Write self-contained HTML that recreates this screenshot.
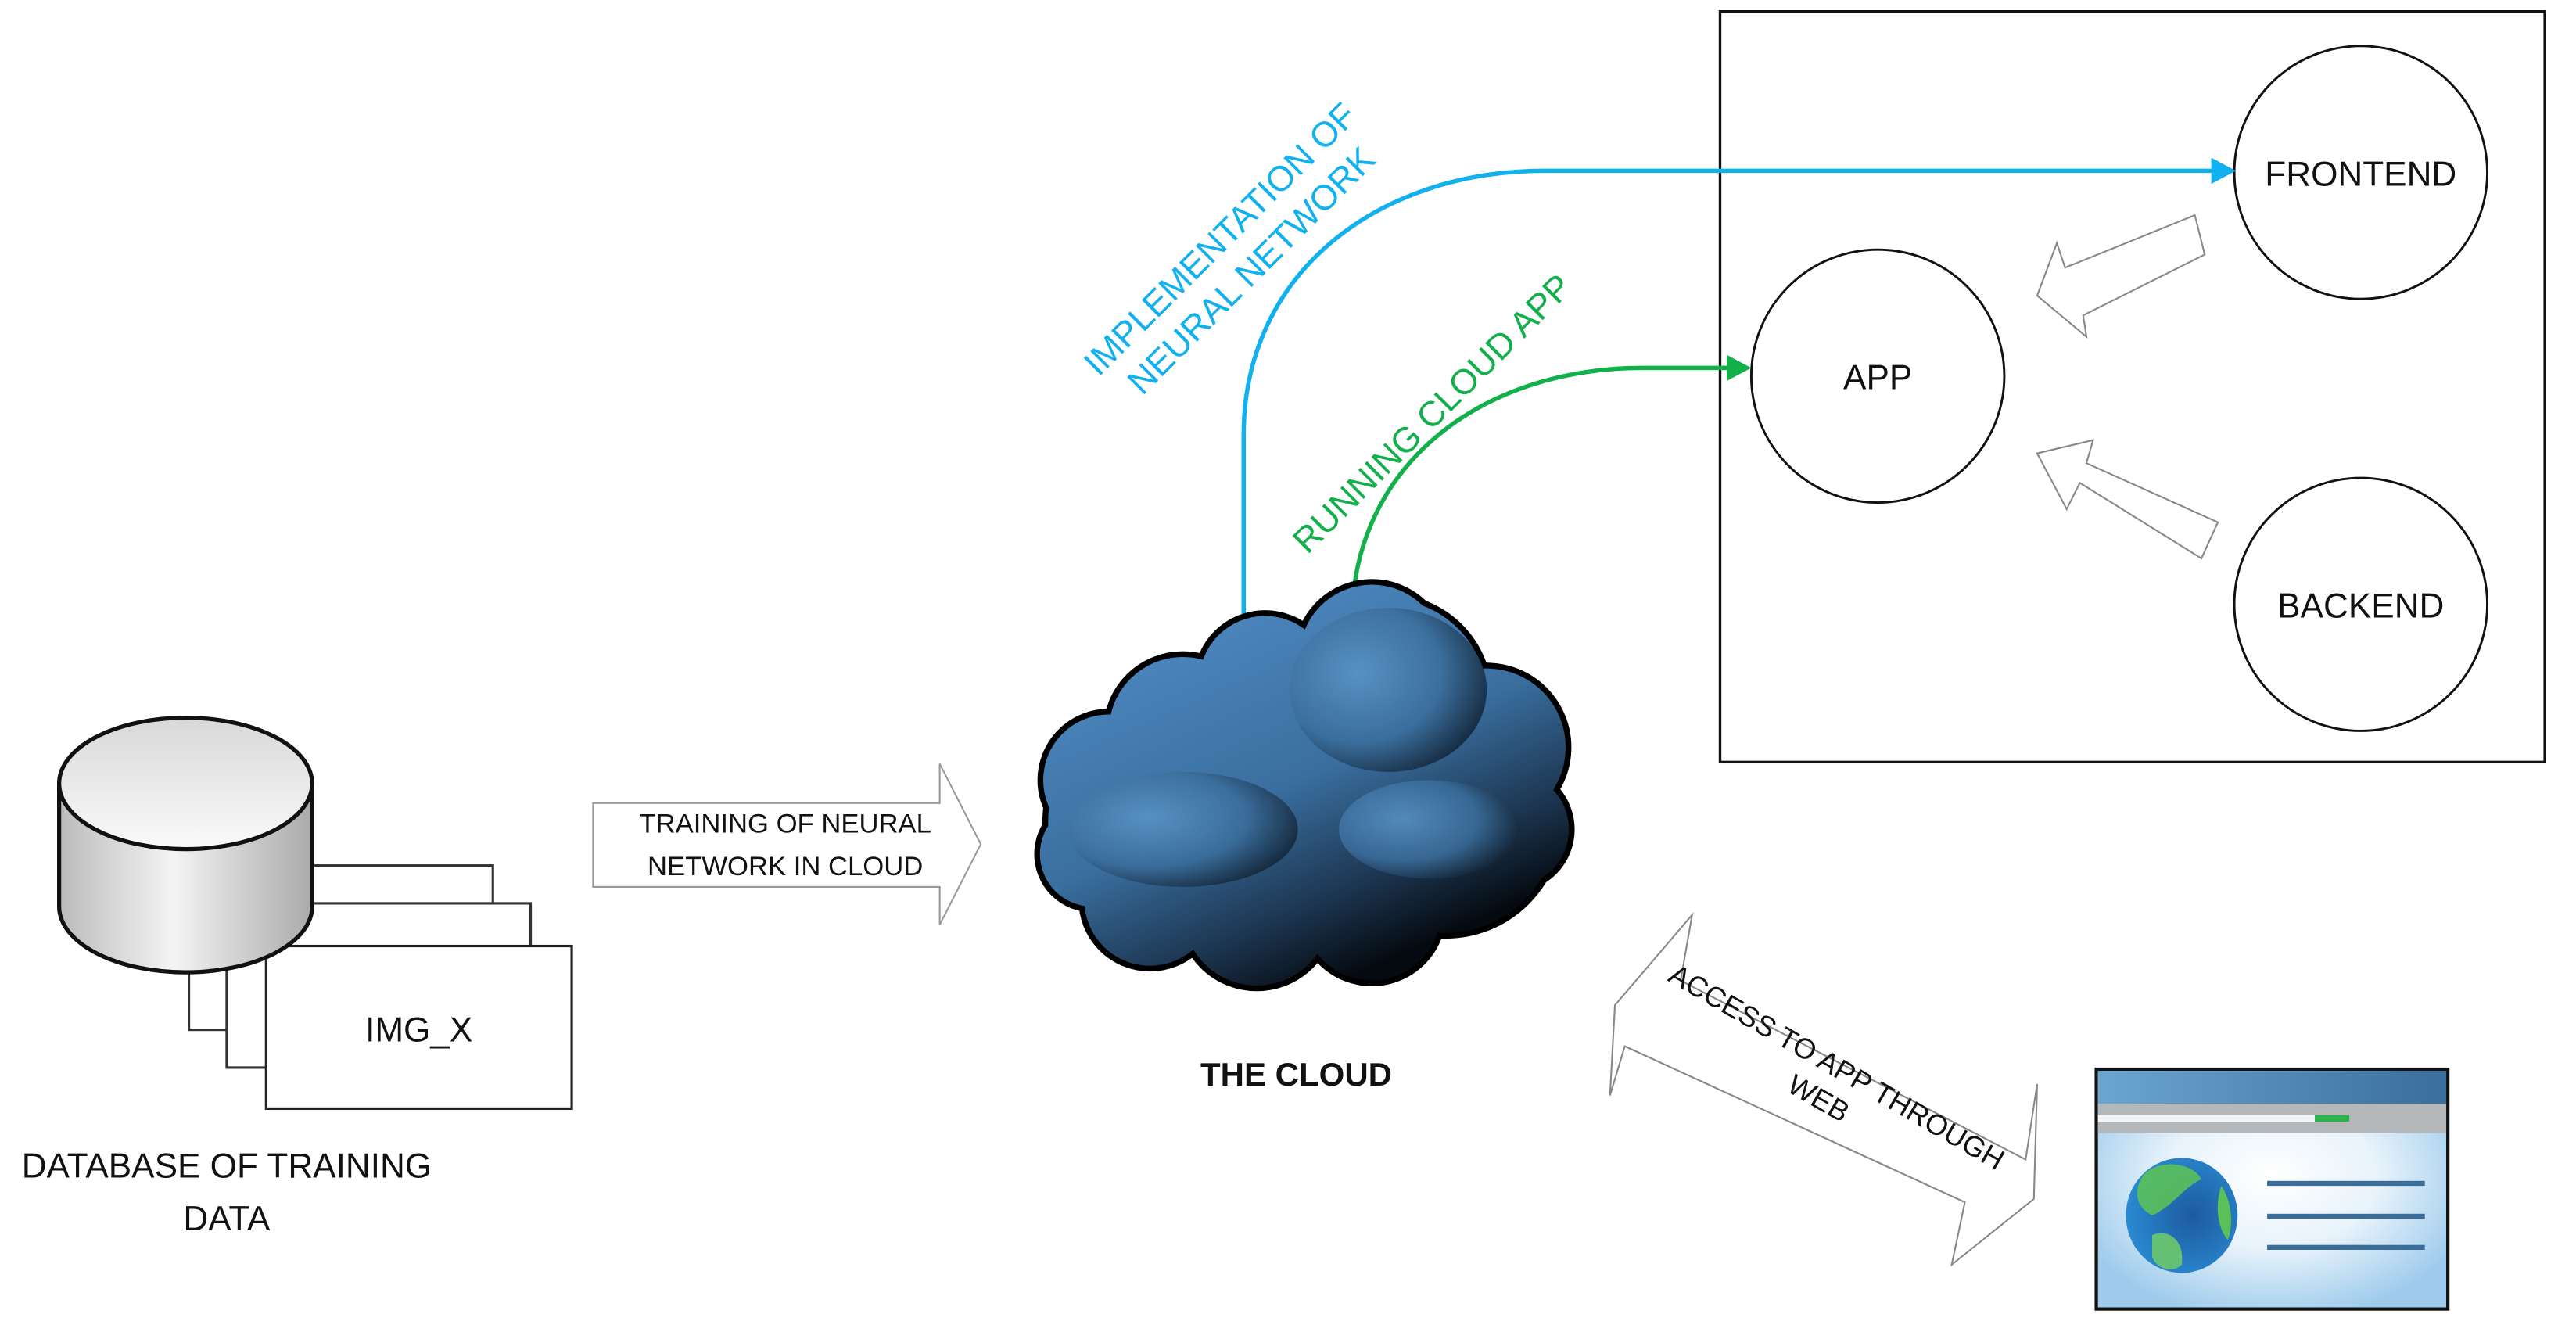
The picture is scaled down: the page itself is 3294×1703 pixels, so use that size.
<!DOCTYPE html>
<html><head><meta charset="utf-8"><style>
html,body{margin:0;padding:0;background:#fff;}
svg{display:block;}
text{font-family:"Liberation Sans",sans-serif;}
</style></head><body>
<svg width="3294" height="1703" viewBox="0 0 1568 811" preserveAspectRatio="none" xmlns="http://www.w3.org/2000/svg">
<defs>
<linearGradient id="cyl" x1="0" x2="1" y1="0" y2="0">
<stop offset="0" stop-color="#bbb"/><stop offset="0.45" stop-color="#f4f4f4"/><stop offset="1" stop-color="#aaa"/></linearGradient>
<linearGradient id="cyltop" x1="0" x2="0" y1="0" y2="1">
<stop offset="0" stop-color="#d8d8d8"/><stop offset="1" stop-color="#fafafa"/></linearGradient>
<linearGradient id="cl" gradientUnits="userSpaceOnUse" x1="700" y1="380" x2="800" y2="605">
<stop offset="0" stop-color="#4d88c0"/><stop offset="0.5" stop-color="#3a6f9f"/><stop offset="0.8" stop-color="#1c3550"/><stop offset="1" stop-color="#050a10"/></linearGradient>
<radialGradient id="puff" cx="0.35" cy="0.4" r="0.7">
<stop offset="0" stop-color="#5a95c8"/><stop offset="0.6" stop-color="#3b6e9c"/><stop offset="1" stop-color="#0f1e2e"/></radialGradient>
<radialGradient id="page" cx="0.5" cy="0.45" r="0.6">
<stop offset="0" stop-color="#ffffff"/><stop offset="0.5" stop-color="#e8f3fb"/><stop offset="1" stop-color="#9ecbec"/></radialGradient>
<radialGradient id="globe" cx="0.6" cy="0.5" r="0.6">
<stop offset="0" stop-color="#1d5aa0"/><stop offset="1" stop-color="#2a8ad0"/></radialGradient>
<linearGradient id="bar" x1="0" x2="1"><stop offset="0" stop-color="#6aa6d0"/><stop offset="1" stop-color="#3a6e9c"/></linearGradient>
</defs>

<rect x="1047" y="7" width="502" height="457" fill="none" stroke="#111" stroke-width="1.6"/>
<circle cx="1437" cy="105" r="77" fill="#fff" stroke="#111" stroke-width="1.4"/>
<circle cx="1143" cy="229" r="77" fill="#fff" stroke="#111" stroke-width="1.4"/>
<circle cx="1437" cy="368" r="77" fill="#fff" stroke="#111" stroke-width="1.4"/>
<text x="1437" y="113" font-size="21" text-anchor="middle" fill="#111">FRONTEND</text>
<text x="1143" y="237" font-size="21" text-anchor="middle" fill="#111">APP</text>
<text x="1437" y="376" font-size="21" text-anchor="middle" fill="#111">BACKEND</text>

<polygon points="1336,131 1342,155 1268,192 1270,205 1240,180 1252,148 1257,163" fill="#fff" stroke="#888" stroke-width="1"/>
<polygon points="1350,318 1340,340 1266,294 1258,310 1240,276 1274,268 1270,282" fill="#fff" stroke="#888" stroke-width="1"/>

<path d="M757,385 L757,265 C757,165 840,104 940,104 L1348,104" fill="none" stroke="#11b0ee" stroke-width="2.6"/>
<polygon points="1361,104 1346,96 1346,112" fill="#11b0ee"/>
<g transform="translate(752,155) rotate(-45)" fill="#11b0ee" font-size="21.5" text-anchor="middle">
<text x="0" y="-6">IMPLEMENTATION OF</text>
<text x="0" y="21">NEURAL NETWORK</text>
</g>

<path d="M823,378 C823,285 900,224 1000,224 L1052,224" fill="none" stroke="#12b04a" stroke-width="2.6"/>
<polygon points="1066,224 1051,216 1051,232" fill="#12b04a"/>
<g transform="translate(872,252) rotate(-45)" fill="#12b04a" font-size="21.5" text-anchor="middle">
<text x="0" y="7">RUNNING CLOUD APP</text>
</g>

<g stroke="#000" stroke-width="7">
<circle cx="700" cy="500" r="62"/><circle cx="780" cy="470" r="78"/><circle cx="845" cy="425" r="60"/>
<circle cx="880" cy="500" r="68"/><circle cx="835" cy="400" r="44"/><circle cx="770" cy="415" r="40"/>
<circle cx="720" cy="445" r="45"/><circle cx="675" cy="475" r="40"/><circle cx="905" cy="455" r="48"/>
<circle cx="765" cy="555" r="45"/><circle cx="700" cy="548" r="40"/><circle cx="835" cy="555" r="42"/>
<circle cx="920" cy="505" r="35"/><circle cx="665" cy="520" r="32"/>
</g>
<g fill="url(#cl)">
<circle cx="700" cy="500" r="62"/><circle cx="780" cy="470" r="78"/><circle cx="845" cy="425" r="60"/>
<circle cx="880" cy="500" r="68"/><circle cx="835" cy="400" r="44"/><circle cx="770" cy="415" r="40"/>
<circle cx="720" cy="445" r="45"/><circle cx="675" cy="475" r="40"/><circle cx="905" cy="455" r="48"/>
<circle cx="765" cy="555" r="45"/><circle cx="700" cy="548" r="40"/><circle cx="835" cy="555" r="42"/>
<circle cx="920" cy="505" r="35"/><circle cx="665" cy="520" r="32"/>
</g>
<g fill="url(#puff)" opacity="0.85">
<ellipse cx="845" cy="420" rx="60" ry="50"/>
<ellipse cx="720" cy="505" rx="70" ry="35"/>
<ellipse cx="870" cy="505" rx="55" ry="30"/>
</g>
<text x="789" y="661" font-size="20" font-weight="bold" text-anchor="middle" fill="#111">THE CLOUD</text>

<polygon points="361,489 572,489 572,465 597,514 572,563 572,540 361,540" fill="#fff" stroke="#999" stroke-width="1"/>
<text x="478" y="507" font-size="16.5" text-anchor="middle" fill="#111">TRAINING OF NEURAL</text>
<text x="478" y="533" font-size="16.5" text-anchor="middle" fill="#111">NETWORK IN CLOUD</text>

<rect x="115" y="527" width="185" height="100" fill="#fff" stroke="#333" stroke-width="1.5"/>
<rect x="138" y="550" width="185" height="100" fill="#fff" stroke="#333" stroke-width="1.5"/>
<rect x="162" y="576" width="186" height="99" fill="#fff" stroke="#222" stroke-width="1.5"/>
<text x="255" y="634" font-size="21" text-anchor="middle" fill="#111">IMG_X</text>
<path d="M36,477 L36,552 A77,40 0 0 0 190,552 L190,477 Z" fill="url(#cyl)" stroke="#111" stroke-width="2.5"/>
<ellipse cx="113" cy="477" rx="77" ry="40" fill="url(#cyltop)" stroke="#111" stroke-width="2.5"/>
<text x="138" y="717" font-size="21" text-anchor="middle" fill="#111">DATABASE OF TRAINING</text>
<text x="138" y="749" font-size="21" text-anchor="middle" fill="#111">DATA</text>

<polygon points="1030,557 1023,597 1233,706 1240,660 1238,730 1188,770 1196,732 989,637 980,667 983,612" fill="#fff" stroke="#888" stroke-width="1"/>
<g transform="translate(1112,660) rotate(30)" font-size="17.5" text-anchor="middle" fill="#111">
<text x="0" y="-6">ACCESS TO APP THROUGH</text>
<text x="0" y="16">WEB</text>
</g>

<rect x="1276" y="651" width="214" height="146" fill="url(#page)" stroke="#111" stroke-width="2"/>
<rect x="1277" y="652" width="212" height="20" fill="url(#bar)"/>
<rect x="1277" y="672" width="212" height="18" fill="#b5b8ba"/>
<rect x="1277" y="679" width="132" height="4" fill="#f4f4f4"/>
<rect x="1409" y="679" width="21" height="4" fill="#2db34a"/>
<ellipse cx="1328" cy="740" rx="34" ry="35" fill="url(#globe)"/>
<path d="M1305,715 C1315,705 1335,708 1340,718 C1330,722 1322,735 1310,740 C1300,735 1298,725 1305,715Z" fill="#5cc05a" opacity="0.9"/>
<path d="M1310,752 C1320,748 1330,755 1328,770 C1322,776 1312,772 1310,765Z" fill="#6cc86a" opacity="0.9"/>
<path d="M1352,722 C1358,730 1360,745 1356,755 C1350,748 1348,735 1352,722Z" fill="#5cc05a"/>
<rect x="1380" y="719" width="96" height="3" fill="#3a6e98"/>
<rect x="1380" y="739" width="96" height="3" fill="#3a6e98"/>
<rect x="1380" y="758" width="96" height="3" fill="#3a6e98"/>
</svg>
</body></html>
